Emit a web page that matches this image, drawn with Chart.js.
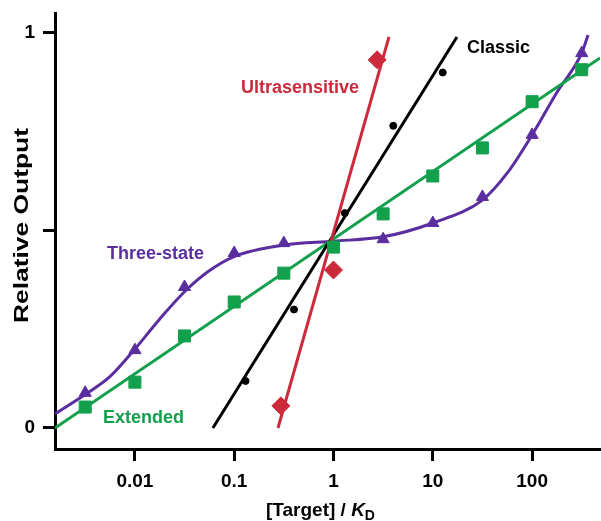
<!DOCTYPE html>
<html><head><meta charset="utf-8">
<script src="https://cdn.jsdelivr.net/npm/chart.js@4"></script>
<style>html,body{margin:0;padding:0;background:#fff;}canvas{display:block;}</style>
</head><body>
<canvas id="c" width="601" height="521" style="width:601px;height:521px"></canvas>
<script>
// ---- data ----
const xTickValues = [0.01, 0.1, 1, 10, 100];
const xTickLabels = ['0.01', '0.1', '1', '10', '100'];
const yTickValues = [0, 0.5, 1];
const yTickLabels = ['0', '', '1'];

const classicX = [0.13, 0.4, 1.3, 4.0, 12.6];
const classicY = [0.119, 0.30, 0.544, 0.765, 0.90];
const classicLineX = [0.061, 17.5];
const classicLineY = [0.0, 0.99];

const ultraX = [0.295, 1.0, 2.75];
const ultraY = [0.056, 0.40, 0.932];
const ultraLineX = [0.276, 3.62];
const ultraLineY = [0.0, 0.99];

const extendedX = [0.00316, 0.01, 0.0316, 0.1, 0.316, 1, 3.16, 10, 31.6, 100, 316];
const extendedY = [0.053, 0.116, 0.233, 0.319, 0.392, 0.458, 0.542, 0.638, 0.709, 0.826, 0.907];
const extendedLineX = [0.001568, 482.8];
const extendedLineY = [0.0, 0.937];

const threeX = [0.00316, 0.01, 0.0316, 0.1, 0.316, 3.16, 10, 31.6, 100, 316];
const threeY = [0.089, 0.197, 0.357, 0.443, 0.468, 0.478, 0.519, 0.585, 0.742, 0.949];
const threeCurveX = [0.001568, 0.00316, 0.0056, 0.01, 0.0178, 0.0316, 0.056, 0.1, 0.316, 1, 3.16, 10, 31.6, 56, 100, 178, 316, 366];
const threeCurveY = [0.036, 0.085, 0.13, 0.20, 0.276, 0.345, 0.398, 0.434, 0.463, 0.473, 0.484, 0.519, 0.577, 0.645, 0.742, 0.85, 0.949, 0.995];

const seriesNames = ['Ultrasensitive', 'Classic', 'Three-state', 'Extended'];
const xTitleParts = ['[Target] / ', 'K', 'D'];
const yTitle = 'Relative Output';

// ---- styles ----
const RED = '#cc2a3b', BLACK = '#000000', PURPLE = '#5b2ea0', GREEN = '#12a04c';
const FONT = "'Liberation Sans', Arial, Helvetica, sans-serif";

const pts = (xs, ys) => xs.map((x, i) => ({x: x, y: ys[i]}));

const lineDs = (data, color, extra) => Object.assign({
  data: data, showLine: true, borderColor: color, borderWidth: 3,
  pointRadius: 0, pointHoverRadius: 0, fill: false, tension: 0
}, extra || {});
const markDs = (data, color, style, r) => ({
  data: data, showLine: false, pointStyle: style, pointRadius: r, pointHoverRadius: r,
  backgroundColor: color, borderColor: color, borderWidth: 1
});

const noPad = s => { s.paddingTop = 0; s.paddingBottom = 0; s.paddingLeft = 0; s.paddingRight = 0; };

const annot = {
  id: 'annot',
  afterDraw(chart) {
    const ctx = chart.ctx;
    ctx.save();
    ctx.font = 'bold 18px ' + FONT;
    ctx.textBaseline = 'middle';
    ctx.textAlign = 'left';
    const labelStyle = [
      {c: RED, x: 241, y: 88},
      {c: BLACK, x: 467, y: 48},
      {c: PURPLE, x: 107, y: 254},
      {c: GREEN, x: 103, y: 418}
    ];
    seriesNames.forEach((n, i) => {
      ctx.fillStyle = labelStyle[i].c;
      ctx.fillText(n, labelStyle[i].x, labelStyle[i].y);
    });
    // y title (rotated, stretched)
    ctx.save();
    ctx.fillStyle = '#000';
    ctx.translate(27.5, 323);
    ctx.rotate(-Math.PI / 2);
    ctx.font = 'bold 20px ' + FONT;
    ctx.textBaseline = 'alphabetic';
    const w = ctx.measureText(yTitle).width;
    ctx.scale(195 / w, 1);
    ctx.fillText(yTitle, 0, 0);
    ctx.restore();
    // x title with italic K and subscript D
    ctx.fillStyle = '#000';
    ctx.textBaseline = 'alphabetic';
    let x = 266;
    ctx.font = 'bold 19px ' + FONT;
    ctx.fillText(xTitleParts[0], x, 516);
    x += ctx.measureText(xTitleParts[0]).width;
    ctx.font = 'italic bold 19px ' + FONT;
    ctx.fillText(xTitleParts[1], x, 516);
    x += ctx.measureText(xTitleParts[1]).width;
    ctx.font = 'bold 14px ' + FONT;
    ctx.fillText(xTitleParts[2], x, 520);
    ctx.restore();
  }
};

new Chart(document.getElementById('c'), {
  type: 'scatter',
  data: {
    datasets: [
      markDs(pts(ultraX, ultraY), RED, 'rectRot', 9),
      markDs(pts(classicX, classicY), BLACK, 'circle', 3.5),
      markDs(pts(extendedX, extendedY), GREEN, 'rect', 8.5),
      markDs(pts(threeX, threeY), PURPLE, 'triangle', 7),
      lineDs(pts(ultraLineX, ultraLineY), RED),
      lineDs(pts(classicLineX, classicLineY), BLACK),
      lineDs(pts(extendedLineX, extendedLineY), GREEN),
      lineDs(pts(threeCurveX, threeCurveY), PURPLE, {cubicInterpolationMode: 'monotone'})
    ]
  },
  options: {
    responsive: false,
    animation: false,
    devicePixelRatio: 1,
    layout: {autoPadding: false, padding: {top: 13, right: 1, left: 0, bottom: 0}},
    plugins: {legend: {display: false}, tooltip: {enabled: false}},
    events: [],
    scales: {
      x: {
        type: 'logarithmic',
        min: 0.001568, max: 482.8,
        afterBuildTicks: s => { s.ticks = xTickValues.map(v => ({value: v})); },
        afterFit: s => { s.height = 72; noPad(s); },
        ticks: {
          autoSkip: false, maxRotation: 0, padding: 9, color: '#000',
          font: {family: FONT, size: 19, weight: 'bold'},
          callback: (v, i) => xTickLabels[i]
        },
        grid: {drawOnChartArea: false, drawTicks: true, tickLength: 12, tickWidth: 3, tickColor: '#000', color: '#000'},
        border: {display: true, color: '#000', width: 3}
      },
      y: {
        type: 'linear',
        min: -0.0532, max: 1.0506,
        afterBuildTicks: s => { s.ticks = yTickValues.map(v => ({value: v})); },
        afterFit: s => { s.width = 55; noPad(s); },
        ticks: {
          autoSkip: false, padding: 8, color: '#000',
          font: {family: FONT, size: 19, weight: 'bold'},
          callback: (v, i) => yTickLabels[i]
        },
        grid: {drawOnChartArea: false, drawTicks: true, tickLength: 12, tickWidth: 3, tickColor: '#000', color: '#000'},
        border: {display: true, color: '#000', width: 3}
      }
    }
  },
  plugins: [annot]
});
</script>
</body></html>
